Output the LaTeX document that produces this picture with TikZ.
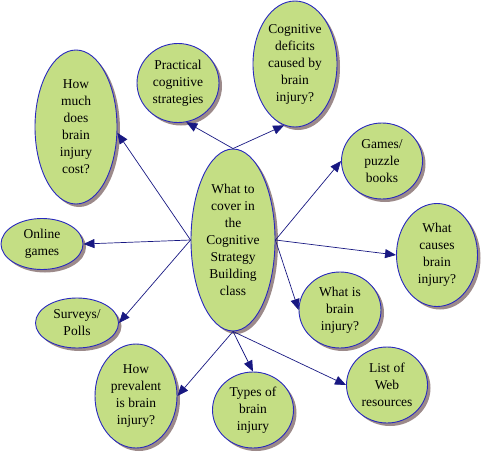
\documentclass[tikz,border=0pt]{standalone}
\usepackage{fontspec}
\setmainfont{Liberation Serif}
\usetikzlibrary{shapes.geometric,shadows,arrows.meta}

\definecolor{bubblefill}{RGB}{196,222,132}
\definecolor{bubbleline}{RGB}{40,40,190}
\definecolor{linkcolor}{RGB}{24,24,130}
\definecolor{shadowcolor}{RGB}{156,138,138}

\tikzset{
  bubble/.style={ellipse, draw=bubbleline, line width=0.9pt, fill=bubblefill,
    inner sep=0pt, align=center, font=\fontsize{13.5}{17}\selectfont,
    drop shadow={shadow xshift=3pt, shadow yshift=-3pt, fill=shadowcolor, opacity=1}},
  link/.style={draw=linkcolor, line width=0.7pt, -{Triangle[length=11pt,width=9pt]}}
}

\begin{document}
\begin{tikzpicture}[x=1pt,y=-1pt]
  \useasboundingbox (0,0) rectangle (482,452);

  % Define nodes
  \node[bubble, minimum width=84pt, minimum height=182pt] (topic) at (233,240) {What to\\cover in\\the\\Cognitive\\Strategy\\Building\\class};
  \node[bubble, minimum width=82pt, minimum height=154pt] (cost) at (76,127) {How\\much\\does\\brain\\injury\\cost?};
  \node[bubble, minimum width=82pt, minimum height=79pt] (prac) at (178,83) {Practical\\cognitive\\strategies};
  \node[bubble, minimum width=84pt, minimum height=126pt] (defic) at (295,64) {Cognitive\\deficits\\caused by\\brain\\injury?};
  \node[bubble, minimum width=81pt, minimum height=76pt] (games) at (382,161) {Games/\\puzzle\\books};
  \node[bubble, minimum width=81pt, minimum height=103pt] (causes) at (437,255) {What\\causes\\brain\\injury?};
  \node[bubble, minimum width=82pt, minimum height=51pt] (online) at (42,244) {Online\\games};
  \node[bubble, minimum width=83pt, minimum height=50pt] (surveys) at (77,323) {Surveys/\\Polls};
  \node[bubble, minimum width=82pt, minimum height=76pt] (whatis) at (340,310) {What is\\brain\\injury?};
  \node[bubble, minimum width=82pt, minimum height=104pt] (prev) at (136,396) {How\\prevalent\\is brain\\injury?};
  \node[bubble, minimum width=81pt, minimum height=76pt] (types) at (253,410) {Types of\\brain\\injury};
  \node[bubble, minimum width=81pt, minimum height=76pt] (list) at (387,385) {List of\\Web\\resources};

  % Connect the nodes
  \draw[link] (topic.north) -- (prac.-78);
  \draw[link] (topic.north) -- (defic.-100);
  \draw[link] (topic.west) -- (cost.-8);
  \draw[link] (topic.west) -- (online.east);
  \draw[link] (topic.west) -- (surveys.east);
  \draw[link] (topic.east) -- (games.west);
  \draw[link] (topic.east) -- (causes.west);
  \draw[link] (topic.east) -- (whatis.west);
  \draw[link] (topic.south) -- (prev.east);
  \draw[link] (topic.south) -- (types.north);
  \draw[link] (topic.south) -- (list.west);

\end{tikzpicture}
\end{document}
